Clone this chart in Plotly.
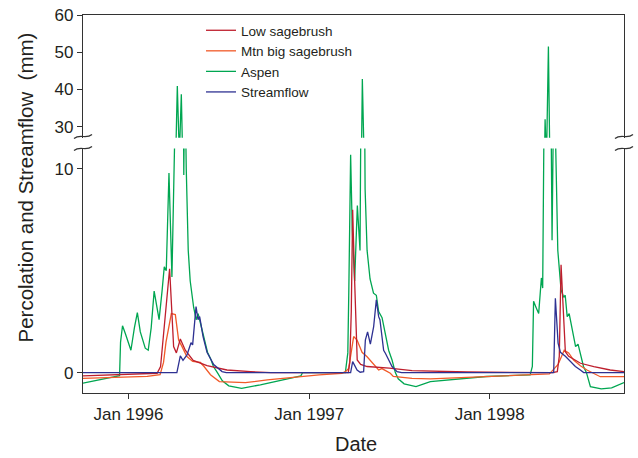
import plotly.graph_objects as go
import pandas as pd

# ---------------- data (days since 1 Oct 1995, value in mm) ----------------
START = "1995-10-01"

low_days = [0, 60, 130, 150, 157, 163, 168, 175.3, 180, 183.4, 189, 197, 207, 223, 251, 291.5, 339, 380,
            537, 540, 543, 545.8, 549.8, 555, 562, 575, 620, 666, 778, 950,
            960, 964, 967.6, 971.7, 976.3, 983, 1007, 1034, 1067, 1095]
low_vals = [-0.16, -0.12, -0.08, -0.03, 0.3, 1.9, 3.0, 5.1, 2.9, 1.28, 0.97, 1.65, 1.1, 0.6, 0.34, 0.13, 0.05, 0.0,
            0.0, 0.5, 3.0, 8.0, 4.5, 0.62, 0.4, 0.3, 0.22, 0.1, 0.03, 0.0,
            0.05, 0.8, 5.3, 2.9, 1.03, 0.8, 0.46, 0.3, 0.13, 0.05]

mtn_days = [0, 60, 130, 156, 163, 168, 178.8, 186.9, 193.5, 200, 210, 222, 237.5, 245, 258, 276, 328.6, 373, 441, 478, 524, 531,
            537.7, 547.8, 554.7, 564.8, 575, 591.7, 598.4, 605, 622, 628, 666, 703, 778, 853, 944, 952,
            961.6, 974, 983, 993, 1006.7, 1020, 1033, 1047, 1095]
mtn_vals = [-0.28, -0.24, -0.18, -0.1, 0.5, 1.5, 2.9, 2.85, 1.6, 1.3, 0.8, 0.55, 0.5, 0.3, -0.1, -0.44, -0.49, -0.36, -0.19, -0.11, -0.03, 0.05,
            0.2, 1.77, 1.6, 1.0, 0.78, 0.3, 0.13, 0.2, -0.03, -0.19, -0.28, -0.31, -0.23, -0.15, -0.06, 0.15,
            0.4, 1.1, 0.97, 0.62, 0.34, 0.13, -0.03, -0.2, -0.2]

aspen_days = [0, 35, 70, 74, 76, 80, 86, 97, 104, 110, 116, 126, 132, 138, 144, 154, 160, 164.5, 168.5,
              174, 180, 186, 190.9, 195, 199, 202, 204, 206, 209, 213, 217, 224, 229, 233, 238, 246, 252, 258, 264,
              272, 282, 295, 321, 359, 403, 441, 444, 445,
              531, 536, 538, 541.7, 545, 549.8, 555.3, 560.7, 563, 565.4, 568, 571, 575, 581, 588, 593.7, 598.4, 605.3,
              612, 618.6, 625.5, 632.2, 638, 650, 674, 703, 816, 905,
              909.5, 912, 917, 922.3, 927.8, 930.4, 933, 935.3, 938, 942, 945, 949.4, 952.7, 956, 961, 967.6, 973,
              976, 980, 984, 993, 997, 1002, 1007, 1013, 1019, 1027, 1049, 1070, 1095]
aspen_vals = [-0.52, -0.35, -0.19, -0.15, 1.5, 2.3, 1.9, 1.1, 2.2, 2.95, 2.0, 1.2, 1.1, 2.2, 4.0, 2.6, 4.0, 5.2, 5.0,
              9.8, 4.7, 12.0, 40.9, 22.0, 38.7, 20.0, 9.7, 15.0, 10.0, 6.0, 4.5, 3.2, 2.6, 2.9, 2.4, 1.6, 1.0, 0.7, 0.3,
              0.0, -0.4, -0.65, -0.77, -0.6, -0.36, -0.16, -0.02, 0.0,
              0.0, 0.97, 4.0, 10.7, 7.0, 4.5, 8.2, 6.0, 15.0, 42.8, 20.0, 9.0, 6.0, 4.6, 3.9, 3.8, 3.0, 2.7,
              1.8, 1.1, 0.62, 0.0, -0.3, -0.55, -0.69, -0.44, -0.19, -0.11,
              0.3, 3.5, 3.2, 2.9, 4.65, 4.15, 12.0, 32.0, 20.0, 51.5, 20.0, 6.5, 14.0, 12.0, 6.0, 4.06, 3.7,
              3.8, 2.75, 2.9, 1.77, 1.28, 1.4, 0.9, 0.3, 0.0, -0.69, -0.8, -0.75, -0.49]

flow_days = [0, 190, 197, 202.4, 210.5, 218.6, 221.9, 228.8, 232.8, 236.1, 243, 251, 264.5, 281.5, 290,
             541.7, 545.8, 554.7, 561, 568, 571.5, 576, 581.6, 588.3, 593.7, 598.4, 601, 608.5, 612, 618.6, 625.5, 635.7, 645,
             952.7, 956.1, 961.6, 966.3, 976.3, 986.5, 996.6, 1006.7, 1013.4, 1095]
flow_vals = [0.0, 0.0, 0.82, 0.6, 0.87, 1.47, 1.36, 3.24, 2.6, 2.75, 1.77, 1.0, 0.4, 0.05, 0.0,
             0.0, 0.54, 0.13, 0.02, 0.05, 1.6, 2.0, 1.4, 2.26, 3.57, 2.75, 2.6, 1.1, 0.95, 0.62, 0.3, 0.05, 0.0,
             0.0, 3.65, 1.45, 1.0, 0.8, 0.54, 0.3, 0.13, 0.0, 0.0]

tick_dates = ["1996-01-01", "1997-01-01", "1998-01-01"]
tick_text = ["Jan 1996", "Jan 1997", "Jan 1998"]
low_ticks = [0, 10]
high_ticks = [30, 40, 50, 60]


def to_dates(days):
    return pd.Timestamp(START) + pd.to_timedelta(days, unit="D")


series = [
    # name, days, vals, colour, legend rank
    ("Aspen", aspen_days, aspen_vals, "#00A651", 3),
    ("Mtn big sagebrush", mtn_days, mtn_vals, "#F15A29", 2),
    ("Low sagebrush", low_days, low_vals, "#BE1E2D", 1),
    ("Streamflow", flow_days, flow_vals, "#2E3192", 4),
]

fig = go.Figure()
for name, d, v, col, rank in series:
    x = to_dates(d)
    fig.add_trace(go.Scatter(x=x, y=v, mode="lines", name=name, line=dict(color=col, width=1.3),
                             xaxis="x", yaxis="y", legendrank=rank, showlegend=True))
    fig.add_trace(go.Scatter(x=x, y=v, mode="lines", name=name, line=dict(color=col, width=1.3),
                             xaxis="x2", yaxis="y2", showlegend=False))

FONT = "Liberation Sans, Arial, sans-serif"
AX = "#333333"
W, H = 638, 458
L, T, R, B = 83, 15, 14, 65
pw, ph = W - L - R, H - T - B


def px2paper(px, py):
    """figure pixel -> paper coords"""
    return (px - L) / pw, (H - B - py) / ph


lo_top = px2paper(0, 148.6)[1]
hi_bot = px2paper(0, 137.8)[1]

lx, ly = px2paper(201, 15)

common = dict(showgrid=False, zeroline=False, automargin=False, linecolor=AX, linewidth=1.3)

fig.update_layout(
    width=W, height=H,
    margin=dict(l=L, r=R, t=T, b=B, autoexpand=False),
    paper_bgcolor="white", plot_bgcolor="white",
    font=dict(family=FONT, color="#231F20", size=17),
    showlegend=True,
    legend=dict(x=lx, y=ly, xanchor="left", yanchor="top",
                bgcolor="rgba(0,0,0,0)", font=dict(size=13.5, family=FONT, color="#231F20"),
                traceorder="normal"),
    xaxis=dict(type="date", range=[to_dates(0), to_dates(1095)], anchor="y",
               tickvals=tick_dates, ticktext=tick_text, ticks="outside", ticklen=5,
               tickcolor=AX, showline=True, tickfont=dict(size=17), ticklabeloverflow="allow", **common),
    xaxis2=dict(type="date", matches="x", anchor="y2", side="top", showline=True,
                showticklabels=False, ticks="", **common),
    yaxis=dict(domain=[0, lo_top], range=[-1, 11], tickvals=low_ticks, ticks="outside", ticklen=5,
               tickcolor=AX, showline=True, mirror=True, tickfont=dict(size=17),
               ticklabeloverflow="allow", **common),
    yaxis2=dict(domain=[hi_bot, 1], range=[27, 60], tickvals=high_ticks, ticks="outside", ticklen=5,
                tickcolor=AX, showline=True, mirror=True, tickfont=dict(size=17), anchor="x2",
                ticklabeloverflow="allow", **common),
)

# axis titles
tx, ty = px2paper(25, 187.5)
fig.add_annotation(text="Percolation and Streamflow\u00a0 (mm)", xref="paper", yref="paper",
                   x=tx, y=ty, textangle=-90, showarrow=False,
                   xanchor="center", yanchor="middle", font=dict(size=20.5, family=FONT, color="#231F20"))
dx, dy = px2paper(356, 444)
fig.add_annotation(text="Date", xref="paper", yref="paper",
                   x=dx, y=dy, showarrow=False,
                   xanchor="center", yanchor="middle", font=dict(size=20, family=FONT, color="#231F20"))


# axis-break squiggles (decoration) on both vertical frame lines
def squiggle(cx, cy):
    pts = [(cx - 9, cy + 2), (cx - 3, cy - 3), (cx + 3, cy + 3), (cx + 9, cy - 2)]
    p = [px2paper(a, b) for a, b in pts]
    return "M {0},{1} C {2},{3} {4},{5} {6},{7}".format(p[0][0], p[0][1], p[1][0], p[1][1],
                                                       p[2][0], p[2][1], p[3][0], p[3][1])


for cx in (83, 624):
    for cy in (136.5, 148.5):
        fig.add_shape(type="path", path=squiggle(cx, cy), xref="paper", yref="paper",
                      line=dict(color=AX, width=1.2))

fig.write_html("out.html", config={"displayModeBar": False},
               post_script="document.body.style.margin='0';document.body.style.overflow='hidden';")
